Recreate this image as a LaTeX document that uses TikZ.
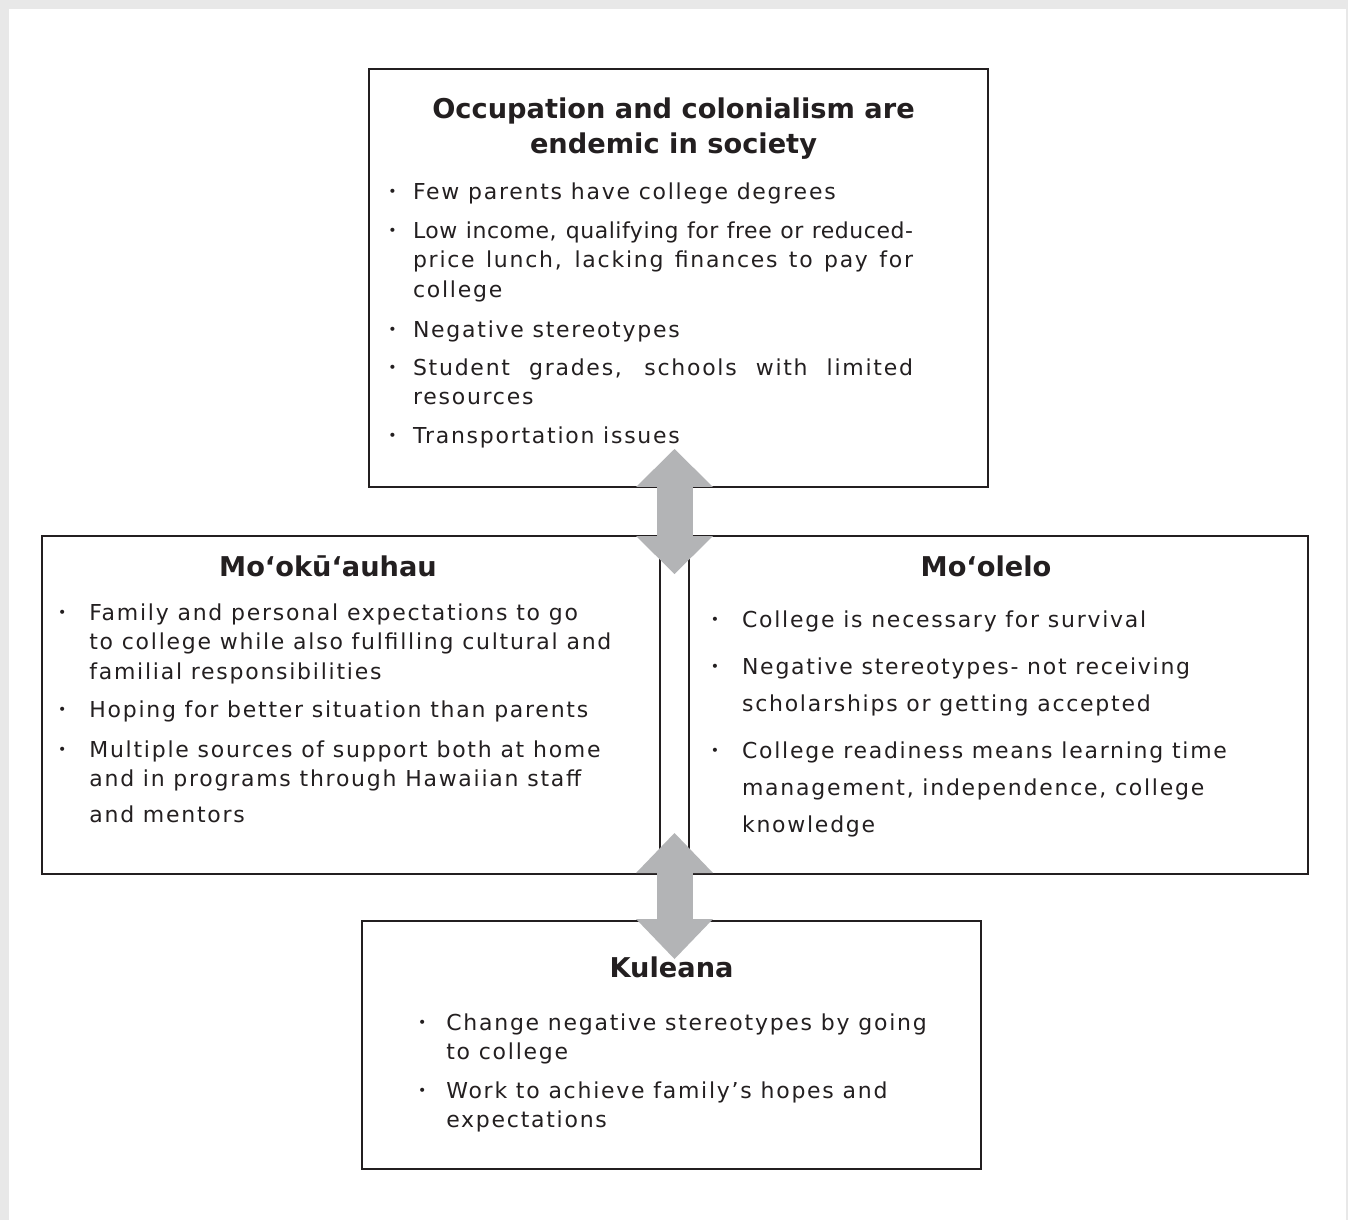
\documentclass[tikz,border=0pt]{standalone}
\usepackage{fontspec}
\setmainfont{DejaVu Sans}
\newfontfamily\bodyfnt[LetterSpace=8]{DejaVu Sans}
\newfontfamily\tightfnt[LetterSpace=2.5]{DejaVu Sans}
\usetikzlibrary{arrows.meta}

\definecolor{ink}{HTML}{231F20}
\definecolor{arrowgray}{HTML}{B3B4B6}
\definecolor{rim}{HTML}{E8E8E8}

% hanging bullet, #1 = gap to the text
\newcommand{\bul}[1]{\leavevmode\llap{\raisebox{1.6pt}{\fontsize{8}{8}\selectfont •}\hspace{#1}}}
\newcommand{\lines}[1]{\parbox[t]{11.5cm}{#1}}
\newcommand{\jline}[1]{{\spaceskip=0.25em plus 1fil minus 0.1em\makebox[10cm][s]{#1}}}

\begin{document}
\begin{tikzpicture}[x=0.02cm,y=-0.02cm,
  box/.style 2 args={draw=ink,line width=1.2pt,minimum width=#1,minimum height=#2,inner sep=0pt},
  ttl/.style={font=\fontsize{15.5}{20.4}\selectfont\bfseries,text=ink,inner sep=0pt,anchor=base},
  itm/.style={font=\bodyfnt\fontsize{12.5}{16.8}\selectfont,text=ink,inner sep=0pt,anchor=base west},
  link/.style={draw=arrowgray,line width=0.72cm,
    {Triangle[width=1.54cm,length=#1,line width=0pt]}-{Triangle[width=1.54cm,length=#1,line width=0pt]}}]

% page frame
\fill[rim] (0,0) rectangle (1348,1220);
\fill[white] (9,9) rectangle (1346,1220);

% ---------- boxes ----------
\node[box={12.38cm}{8.36cm}] (occ) at (678.5,278) {};
\node[box={12.36cm}{6.76cm}] (mok) at (351,705) {};
\node[box={12.38cm}{6.76cm}] (mol) at (998.5,705) {};
\node[box={12.38cm}{4.96cm}] (kul) at (671.5,1045) {};

% ---------- top box ----------
\node[ttl] (occT) at (673.5,118) {\parbox[t]{12cm}{\centering Occupation and colonialism are\\endemic in society}};
\node[itm] (occ1) at (412.7,199) {\lines{\bul{0.33cm}Few parents have college degrees}};
\node[itm] (occ2) at (412.7,238) {\lines{\bul{0.33cm}\jline{\tightfnt Low income, qualifying for free or reduced-}\\
  \jline{price lunch, lacking finances to pay for}\\college}};
\node[itm] (occ3) at (412.7,337) {\lines{\bul{0.33cm}Negative stereotypes}};
\node[itm] (occ4) at (412.7,375) {\lines{\bul{0.33cm}\jline{Student grades, schools with limited}\\resources}};
\node[itm] (occ5) at (412.7,443) {\lines{\bul{0.33cm}Transportation issues}};

% ---------- left box ----------
\node[ttl] (mokT) at (328,576) {Mo‘okū‘auhau};
\node[itm] (mok1) at (89,620) {\lines{\bul{0.46cm}Family and personal expectations to go\\
  to college while also fulfilling cultural and\\familial responsibilities}};
\node[itm] (mok2) at (89,717) {\lines{\bul{0.46cm}Hoping for better situation than parents}};
\node[itm] (mok3) at (89,757) {\lines{\bul{0.46cm}Multiple sources of support both at home\\
  and in programs through Hawaiian staff\\[3.6pt]and mentors}};

% ---------- right box ----------
\node[ttl] (molT) at (986,576) {Mo‘olelo};
\node[itm] (mol1) at (741.7,627) {\lines{\bul{0.46cm}College is necessary for survival}};
\node[itm] (mol2) at (741.7,674) {\lines{\bul{0.46cm}Negative stereotypes- not receiving\\[4.7pt]
  scholarships or getting accepted}};
\node[itm] (mol3) at (741.7,758) {\lines{\bul{0.46cm}College readiness means learning time\\[4.6pt]
  management, independence, college\\[4.4pt]knowledge}};

% ---------- bottom box ----------
\node[ttl] (kulT) at (671.5,977) {Kuleana};
\node[itm] (kul1) at (446,1030) {\lines{\bul{0.40cm}Change negative stereotypes by going\\to college}};
\node[itm] (kul2) at (446,1098) {\lines{\bul{0.40cm}Work to achieve family’s hopes and\\expectations}};

% ---------- arrows ----------
\coordinate (upA) at (674.5,449);
\coordinate (upB) at (674.5,574);
\draw[link=0.76cm] (upA) -- (upB);
\coordinate (dnA) at (674.5,833);
\coordinate (dnB) at (674.5,959);
\draw[link=0.8cm] (dnA) -- (dnB);
\end{tikzpicture}
\end{document}
